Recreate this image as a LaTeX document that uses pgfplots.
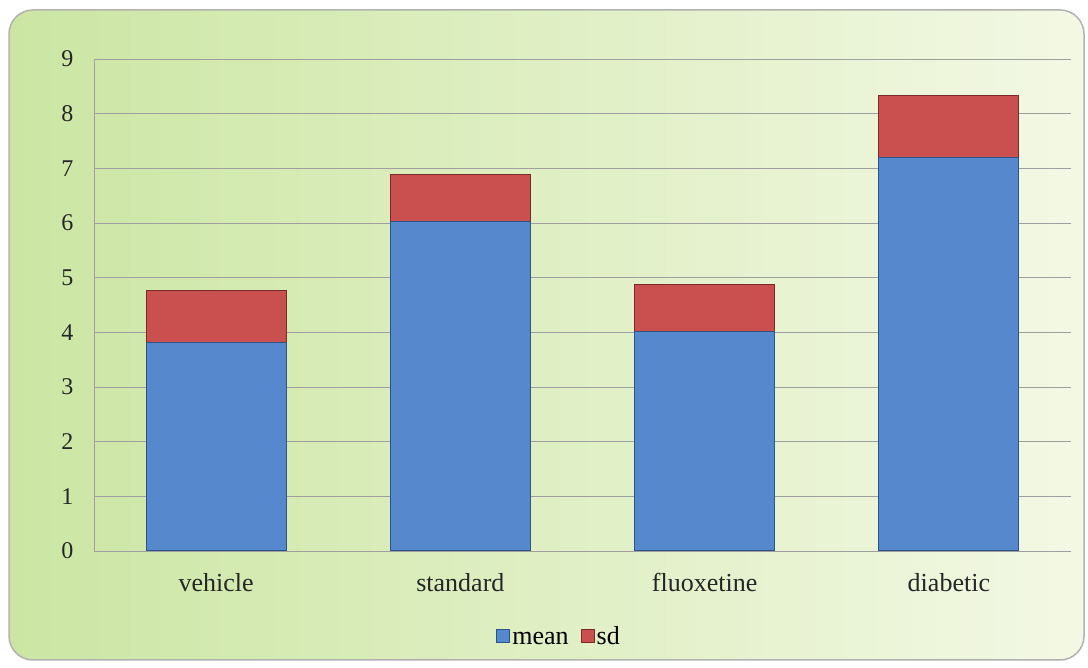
\documentclass[border=0pt]{standalone}
\usepackage{pgfplots}
\pgfplotsset{compat=1.18}
\usepackage{fontspec}
\setmainfont{Liberation Serif}
\definecolor{barblue}{HTML}{5588CC}
\definecolor{barblueedge}{HTML}{2E5485}
\definecolor{barred}{HTML}{C9504F}
\definecolor{barrededge}{HTML}{7A2A28}
\definecolor{bgleft}{HTML}{CBE6A3}
\definecolor{bgmid}{HTML}{FBFAD0}
\definecolor{bgright}{HTML}{F3F8E4}
\begin{document}
\begin{tikzpicture}[x=1pt,y=1pt]
\fill[white] (0,0) rectangle (1088,668);
\shade[left color=bgleft, middle color=bgmid, right color=bgright, rounded corners=24pt] (9,8) rectangle (1084,658);
\draw[gray!60, line width=1.5pt, rounded corners=24pt] (9,8) rectangle (1084,658);
\begin{axis}[
  at={(94pt,117pt)}, anchor=south west,
  scale only axis, width=977pt, height=492pt,
  ybar stacked, bar width=140pt,
  xmin=-0.5, xmax=3.5, ymin=0, ymax=9,
  xtick={0,1,2,3},
  xticklabels={vehicle,standard,fluoxetine,diabetic},
  ytick={0,1,2,3,4,5,6,7,8,9},
  ymajorgrids, grid style={gray!75, line width=0.6pt},
  axis x line*=bottom, axis y line*=left,
  axis line style={gray!75, line width=0.6pt, -},
  major tick style={draw=none},
  /pgf/number format/assume math mode=true,
  tick label style={black!85},
  xticklabel style={font=\fontsize{26}{30}\selectfont, anchor=base, yshift=-41pt},
  yticklabel style={font=\fontsize{24}{28}\selectfont, anchor=east, xshift=-17pt},
  legend style={at={(0.476,-0.177)}, anchor=center, draw=none, fill=none,
    legend columns=2, font=\fontsize{26}{30}\selectfont,
    nodes={text height=18pt, text depth=5pt, inner sep=2pt},
    /tikz/every even column/.append style={column sep=10pt}},
  legend image code/.code={\fill[#1] (0pt,-4pt) rectangle (13pt,9pt);},
]
\addplot[fill=barblue, draw=barblueedge, line width=1pt] coordinates {(0,3.81) (1,6.02) (2,4.01) (3,7.19)};
\addplot[fill=barred, draw=barrededge, line width=1pt] coordinates {(0,0.96) (1,0.86) (2,0.87) (3,1.15)};
\legend{mean,sd}
\end{axis}
\end{tikzpicture}
\end{document}
